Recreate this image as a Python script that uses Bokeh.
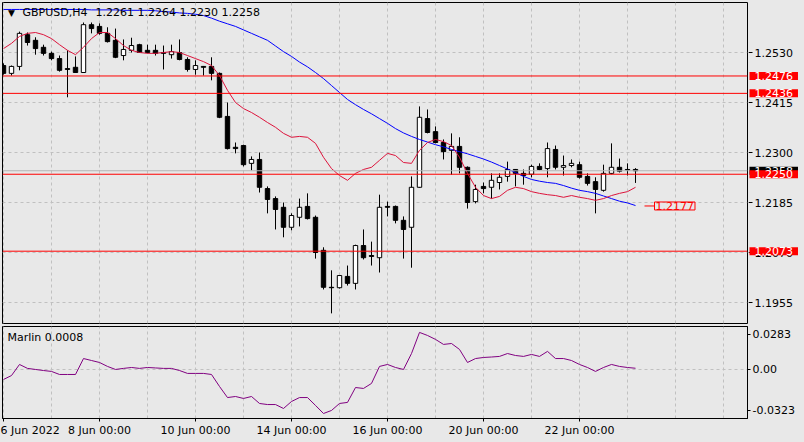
from bokeh.plotting import figure
from bokeh.layouts import column, row
from bokeh.models import Range1d, FixedTicker, Span, Label, ColumnDataSource
from bokeh.core.properties import value
from bokeh.embed import file_html
from bokeh.resources import INLINE

# ---------------- data (GBPUSD, H4) ----------------
symbol = "GBPUSD,H4"
last_quote = "1.2261 1.2264 1.2230 1.2258"

opens = [1.2500, 1.2482, 1.2498, 1.2571, 1.2558, 1.2542, 1.2528, 1.2516, 1.2493, 1.2496,
         1.2484, 1.2594, 1.2590, 1.2574, 1.2558, 1.2523, 1.2535, 1.2548, 1.2535, 1.2535,
         1.2530, 1.2525, 1.2530, 1.2514, 1.2491, 1.2498, 1.2498, 1.2482, 1.2383, 1.2312,
         1.2316, 1.2275, 1.2284, 1.2217, 1.2194, 1.2174, 1.2128, 1.2151, 1.2176, 1.2151,
         1.2075, 1.1990, 1.1989, 1.2015, 1.1999, 1.2086, 1.2063, 1.2058, 1.2176, 1.2176,
         1.2144, 1.2128, 1.2220, 1.2378, 1.2348, 1.2323, 1.2305, 1.2314, 1.2266, 1.2187,
         1.2222, 1.2220, 1.2231, 1.2245, 1.2261, 1.2252, 1.2250, 1.2268, 1.2263, 1.2307,
         1.2266, 1.2270, 1.2272, 1.2245, 1.2233, 1.2213, 1.2252, 1.2266, 1.2261, 1.2261]
highs = [1.2505, 1.2500, 1.2578, 1.2576, 1.2565, 1.2548, 1.2532, 1.2523, 1.2535, 1.2521,
         1.2599, 1.2599, 1.2597, 1.2588, 1.2585, 1.2560, 1.2564, 1.2550, 1.2548, 1.2548,
         1.2546, 1.2548, 1.2560, 1.2519, 1.2512, 1.2499, 1.2519, 1.2484, 1.2415, 1.2323,
         1.2318, 1.2291, 1.2300, 1.2222, 1.2199, 1.2185, 1.2160, 1.2194, 1.2206, 1.2155,
         1.2082, 1.2029, 1.2018, 1.2040, 1.2088, 1.2123, 1.2095, 1.2203, 1.2187, 1.2178,
         1.2153, 1.2245, 1.2406, 1.2399, 1.2360, 1.2330, 1.2344, 1.2335, 1.2268, 1.2226,
         1.2231, 1.2252, 1.2252, 1.2279, 1.2262, 1.2261, 1.2272, 1.2275, 1.2323, 1.2316,
         1.2293, 1.2284, 1.2279, 1.2252, 1.2243, 1.2272, 1.2321, 1.2286, 1.2275, 1.2264]
lows = [1.2479, 1.2477, 1.2489, 1.2546, 1.2525, 1.2523, 1.2512, 1.2486, 1.2427, 1.2484,
        1.2483, 1.2574, 1.2571, 1.2553, 1.2517, 1.2512, 1.2530, 1.2530, 1.2528, 1.2523,
        1.2491, 1.2516, 1.2512, 1.2486, 1.2479, 1.2477, 1.2466, 1.2379, 1.2307, 1.2298,
        1.2268, 1.2259, 1.2208, 1.2160, 1.2123, 1.2105, 1.2121, 1.2130, 1.2146, 1.2056,
        1.1985, 1.1930, 1.1987, 1.1994, 1.1985, 1.2054, 1.2040, 1.2024, 1.2153, 1.2137,
        1.2056, 1.2035, 1.2219, 1.2344, 1.2321, 1.2284, 1.2249, 1.2252, 1.2171, 1.2183,
        1.2206, 1.2194, 1.2215, 1.2233, 1.2222, 1.2226, 1.2243, 1.2259, 1.2243, 1.2261,
        1.2247, 1.2266, 1.2240, 1.2224, 1.2160, 1.2210, 1.2250, 1.2254, 1.2247, 1.2230]
closes = [1.2482, 1.2498, 1.2574, 1.2553, 1.2539, 1.2528, 1.2516, 1.2489, 1.2491, 1.2484,
          1.2594, 1.2585, 1.2574, 1.2555, 1.2519, 1.2537, 1.2546, 1.2530, 1.2530, 1.2528,
          1.2528, 1.2532, 1.2514, 1.2491, 1.2500, 1.2496, 1.2482, 1.2381, 1.2309, 1.2309,
          1.2272, 1.2284, 1.2220, 1.2192, 1.2169, 1.2128, 1.2155, 1.2174, 1.2148, 1.2070,
          1.1990, 1.1989, 1.2017, 1.1999, 1.2086, 1.2058, 1.2061, 1.2174, 1.2174, 1.2144,
          1.2123, 1.2220, 1.2381, 1.2346, 1.2323, 1.2302, 1.2314, 1.2266, 1.2185, 1.2215,
          1.2217, 1.2236, 1.2243, 1.2261, 1.2252, 1.2247, 1.2268, 1.2261, 1.2309, 1.2266,
          1.2270, 1.2275, 1.2243, 1.2229, 1.2215, 1.2252, 1.2266, 1.2257, 1.2260, 1.2258]

ma_fast = [1.2539, 1.2551, 1.2567, 1.2574, 1.2576, 1.2571, 1.2562, 1.2548, 1.2535, 1.2525,
           1.2542, 1.2562, 1.2576, 1.2576, 1.2562, 1.2546, 1.2535, 1.2530, 1.2528, 1.2528,
           1.2530, 1.2532, 1.2530, 1.2523, 1.2516, 1.2509, 1.2500, 1.2477, 1.2443, 1.2415,
           1.2401, 1.2392, 1.2381, 1.2369, 1.2358, 1.2344, 1.2335, 1.2337, 1.2335, 1.2321,
           1.2289, 1.2263, 1.2247, 1.2236, 1.2252, 1.2261, 1.2266, 1.2282, 1.2298, 1.2293,
           1.2277, 1.2275, 1.2305, 1.2323, 1.2330, 1.2325, 1.2316, 1.2289, 1.2252, 1.2220,
           1.2201, 1.2194, 1.2199, 1.2213, 1.2220, 1.2217, 1.2210, 1.2206, 1.2203, 1.2201,
           1.2197, 1.2201, 1.2197, 1.2194, 1.2190, 1.2194, 1.2201, 1.2206, 1.2210, 1.2220]
ma_slow = [1.2629, 1.2629, 1.2629, 1.2629, 1.2629, 1.2629, 1.2629, 1.2629, 1.2629, 1.2629,
           1.2629, 1.2628, 1.2628, 1.2628, 1.2628, 1.2627, 1.2627, 1.2627, 1.2627, 1.2626,
           1.2624, 1.2623, 1.2621, 1.2620, 1.2618, 1.2615, 1.2609, 1.2602, 1.2596, 1.2590,
           1.2582, 1.2574, 1.2566, 1.2558, 1.2545, 1.2532, 1.2521, 1.2508, 1.2497, 1.2484,
           1.2470, 1.2454, 1.2438, 1.2422, 1.2410, 1.2399, 1.2389, 1.2378, 1.2367, 1.2355,
           1.2345, 1.2337, 1.2330, 1.2324, 1.2318, 1.2313, 1.2307, 1.2302, 1.2297, 1.2291,
           1.2285, 1.2278, 1.2270, 1.2262, 1.2254, 1.2245, 1.2238, 1.2234, 1.2231, 1.2229,
           1.2224, 1.2218, 1.2213, 1.2210, 1.2206, 1.2200, 1.2194, 1.2188, 1.2184, 1.2178]
marlin = [-0.0066, -0.0040, 0.0033, 0.0007, 0.0000, -0.0007, -0.0013, -0.0033, -0.0033, -0.0033,
          0.0072, 0.0059, 0.0046, 0.0020, 0.0000, 0.0007, 0.0013, 0.0007, 0.0013, 0.0010,
          0.0007, 0.0007, -0.0007, -0.0026, -0.0026, -0.0026, -0.0033, -0.0112, -0.0185, -0.0178,
          -0.0191, -0.0178, -0.0224, -0.0231, -0.0231, -0.0257, -0.0211, -0.0185, -0.0185, -0.0237,
          -0.0290, -0.0270, -0.0224, -0.0217, -0.0119, -0.0125, -0.0092, 0.0020, 0.0033, 0.0013,
          0.0000, 0.0105, 0.0244, 0.0224, 0.0198, 0.0165, 0.0171, 0.0132, 0.0046, 0.0072,
          0.0079, 0.0082, 0.0086, 0.0105, 0.0092, 0.0086, 0.0099, 0.0086, 0.0119, 0.0072,
          0.0072, 0.0059, 0.0033, 0.0013, -0.0013, 0.0013, 0.0033, 0.0020, 0.0013, 0.0008]
marlin_label = "Marlin 0.0008"

time_ticks = [0, 12, 24, 36, 48, 60, 72]
time_labels = ["6 Jun 2022", "8 Jun 00:00", "10 Jun 00:00", "14 Jun 00:00",
               "16 Jun 00:00", "20 Jun 00:00", "22 Jun 00:00"]
day_grid = [0, 6, 12, 18, 24, 30, 36, 42, 48, 54, 60, 66, 72, 78, 84, 90]
price_ticks = [1.1955, 1.2070, 1.2185, 1.2300, 1.2415, 1.2530]
levels = [1.2476, 1.2436, 1.2250, 1.2073]
bid = 1.2258
ma_value_label = 1.2177
marlin_ticks = [0.0231, 0.0, -0.0270]
marlin_tick_labels = ["0.0283", "0.00", "-0.0323"]

# ---------------- styling / geometry ----------------
BG = "#e8e8e8"
GRID = "#c0c0c0"
FONT = "DejaVu Sans"
FS = "11px"
X0, X1 = -0.125, 93.0
Y_TOP, Y_BOT = 1.2645, 1.19067
M_TOP, M_BOT = 0.0283, -0.0323


def sx(px):
    return (px - 3) / 8.0


def sy(py):
    return Y_TOP - (py - 2) * (Y_TOP - Y_BOT) / 321.0


def my(py):
    return M_TOP - (py - 326) * (M_TOP - M_BOT) / 92.0


N = len(closes)
bars = list(range(N))

main = figure(frame_width=745, frame_height=321,
              min_border_left=2, min_border_right=1, min_border_top=2, min_border_bottom=2,
              x_range=Range1d(X0, X1), y_range=Range1d(Y_BOT, Y_TOP),
              x_axis_location=None, y_axis_location=None,
              toolbar_location=None, output_backend="svg",
              background_fill_color=BG, border_fill_color=BG,
              outline_line_color="black", outline_line_width=1)

main.xgrid.ticker = FixedTicker(ticks=day_grid)
main.xgrid.grid_line_color = GRID
main.xgrid.grid_line_dash = "3 3"
main.ygrid.ticker = FixedTicker(ticks=price_ticks)
main.ygrid.grid_line_color = GRID
main.ygrid.grid_line_dash = "3 3"

# bid line (grey)
main.add_layout(Span(location=bid, dimension="width", line_color="#b4b4b4", line_width=1))

top = [max(o, c) for o, c in zip(opens, closes)]
bottom = [min(o, c) for o, c in zip(opens, closes)]
fill = ["white" if c > o else "black" for o, c in zip(opens, closes)]
src = ColumnDataSource(dict(x=bars, h=highs, l=lows, top=top, bottom=bottom, fill=fill))
main.segment(x0="x", y0="h", x1="x", y1="l", source=src, line_color="black", line_width=1)
main.vbar(x="x", width=0.55, top="top", bottom="bottom", source=src,
          fill_color="fill", line_color="black", line_width=1)

main.line(bars, ma_slow, line_color="#0000ff", line_width=1)
main.line(bars, ma_fast, line_color="#dc143c", line_width=1)

for lv in levels:
    main.add_layout(Span(location=lv, dimension="width", line_color="#ff0000", line_width=1))

# MA value marker
main.segment(x0=[N - 1 + 1.125], y0=[ma_value_label], x1=[N - 1 + 2.375], y1=[ma_value_label],
             line_color="#ff0000", line_width=1)
main.add_layout(Label(x=N - 1 + 2.375, y=ma_value_label, text="%.4f" % ma_value_label,
                      text_align="left", text_baseline="middle",
                      text_font=FONT, text_font_size=FS, text_color="#ff0000",
                      border_line_color="#ff0000", border_line_width=1,
                      padding=dict(left=1, right=1, top=0, bottom=0)))

# header
main.add_layout(Label(x=sx(11), y=sy(12), text="\u25BC", text_align="center", text_baseline="middle",
                      text_font=FONT, text_font_size="9px", text_color="black"))
main.add_layout(Label(x=sx(22), y=sy(12), text=symbol, text_align="left", text_baseline="middle",
                      text_font=FONT, text_font_size=FS, text_color="black"))
main.add_layout(Label(x=sx(95), y=sy(12), text=last_quote, text_align="left", text_baseline="middle",
                      text_font=FONT, text_font_size=FS, text_color="black"))

# ---------------- right price scale (own panel, so boxes can cover labels) ----------------
scale = figure(frame_width=56, frame_height=321,
               min_border_left=0, min_border_right=0, min_border_top=2, min_border_bottom=2,
               x_range=Range1d(0, 56), y_range=main.y_range,
               x_axis_location=None, y_axis_location=None,
               toolbar_location=None, output_backend="svg",
               background_fill_color=BG, border_fill_color=BG, outline_line_color=None)
scale.grid.visible = False
scale.segment(x0=[0] * len(price_ticks), y0=price_ticks, x1=[4] * len(price_ticks), y1=price_ticks,
              line_color="black", line_width=1)
scale.text(x=[6] * len(price_ticks), y=price_ticks, text=["%.4f" % t for t in price_ticks],
           text_font=value(FONT), text_font_size=value(FS), text_color="black",
           text_align="left", text_baseline="middle")
scale.add_layout(Label(x=1, y=bid, text="%.4f" % bid, text_align="left", text_baseline="middle",
                       text_font=FONT, text_font_size=FS, text_color="white",
                       background_fill_color="black",
                       padding=dict(left=5, right=5, top=0, bottom=0)))
for lv in levels:
    scale.add_layout(Label(x=1, y=lv, text="%.4f" % lv, text_align="left", text_baseline="middle",
                           text_font=FONT, text_font_size=FS, text_color="white",
                           background_fill_color="#ff0000",
                           padding=dict(left=5, right=5, top=0, bottom=0)))

# ---------------- indicator panel ----------------
ind = figure(frame_width=745, frame_height=92,
             min_border_left=2, min_border_right=57, min_border_top=1, min_border_bottom=24,
             x_range=main.x_range, y_range=Range1d(M_BOT, M_TOP),
             y_axis_location="right",
             toolbar_location=None, output_backend="svg",
             background_fill_color=BG, border_fill_color=BG,
             outline_line_color="black", outline_line_width=1)

ind.line(bars, marlin, line_color="#800080", line_width=1)

ind.xgrid.ticker = FixedTicker(ticks=day_grid)
ind.xgrid.grid_line_color = GRID
ind.xgrid.grid_line_dash = "3 3"
ind.ygrid.ticker = FixedTicker(ticks=[0.0])
ind.ygrid.grid_line_color = GRID
ind.ygrid.grid_line_dash = "3 3"

xa = ind.xaxis[0]
xa.ticker = FixedTicker(ticks=time_ticks)
xa.major_label_overrides = {t: s for t, s in zip(time_ticks, time_labels)}
xa.major_label_text_align = "left"
xa.major_label_text_font = FONT
xa.major_label_text_font_size = FS
xa.major_label_text_color = "black"
xa.axis_line_color = "black"
xa.major_tick_line_color = "black"
xa.minor_tick_line_color = None
xa.major_tick_out = 3
xa.major_tick_in = 0
xa.major_label_standoff = 2

ia = ind.yaxis[0]
ia.ticker = FixedTicker(ticks=marlin_ticks)
ia.major_label_overrides = {t: s for t, s in zip(marlin_ticks, marlin_tick_labels)}
ia.major_label_text_font = FONT
ia.major_label_text_font_size = FS
ia.major_label_text_color = "black"
ia.axis_line_color = "black"
ia.major_tick_line_color = "black"
ia.minor_tick_line_color = None
ia.major_tick_out = 3
ia.major_tick_in = 0
ia.major_label_standoff = 2

ind.add_layout(Label(x=sx(7), y=my(337), text=marlin_label, text_align="left", text_baseline="middle",
                     text_font=FONT, text_font_size=FS, text_color="black"))

layout = column(row(main, scale, spacing=0), ind, spacing=0)

html = file_html(layout, INLINE, title="GBPUSD H4")
html = html.replace("</head>",
                    "<style>html,body{margin:0;padding:0;background:%s;overflow:hidden;}</style></head>" % BG, 1)
open("out.html", "w").write(html)
